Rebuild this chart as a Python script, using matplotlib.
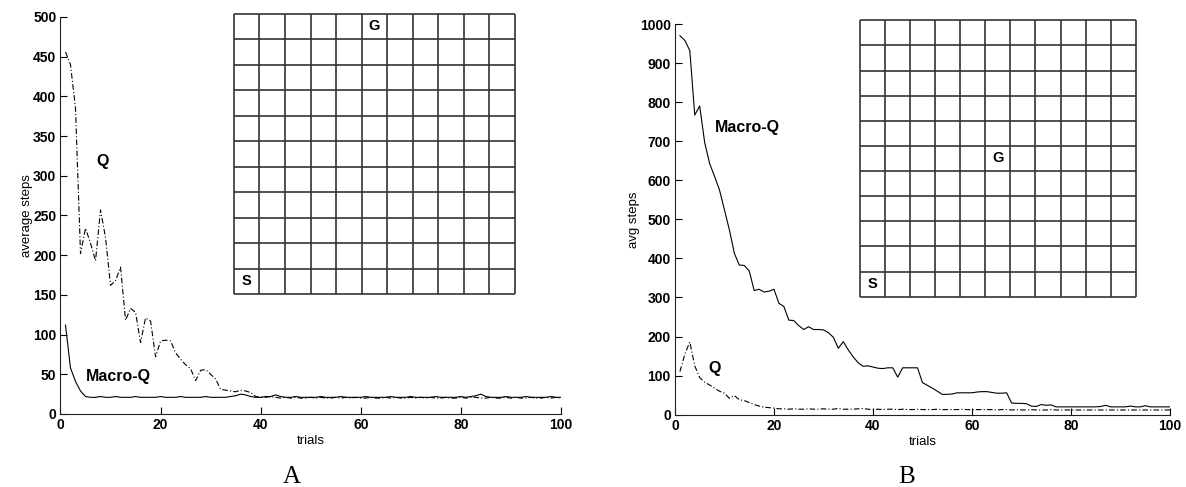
import matplotlib
matplotlib.use('Agg')
import matplotlib.pyplot as plt
import numpy as np

plt.rcParams['font.family'] = ['Liberation Sans', 'DejaVu Sans']

trials = np.arange(1, 101)

# panel A: 11x11 grid, goal near top
q_a = [456, 440, 385, 202, 234, 215, 193, 257, 222, 162,
       168, 185, 118, 133, 128, 90, 121, 117, 72, 92,
       93, 92, 77, 69, 62, 57, 42, 55, 56, 50,
       44, 31, 30, 29, 28, 30, 29, 27, 22, 21,
       21, 22, 21, 20, 21, 20, 21, 20, 20, 21,
       20, 21, 20, 20, 21, 20, 21, 20, 21, 20,
       20, 21, 20, 20, 21, 20, 21, 20, 20, 21,
       20, 21, 20, 21, 20, 20, 21, 20, 20, 21,
       20, 21, 21, 20, 20, 21, 20, 20, 21, 20,
       21, 20, 20, 21, 20, 20, 21, 20, 21, 20]
macro_a = [112, 58, 41, 29, 22, 21, 21, 22, 21, 21,
           22, 21, 21, 21, 22, 21, 21, 21, 21, 22,
           21, 21, 21, 22, 21, 21, 21, 21, 22, 21,
           21, 21, 21, 22, 23, 25, 24, 22, 21, 21,
           22, 22, 24, 22, 21, 21, 22, 21, 21, 21,
           21, 22, 21, 21, 21, 22, 21, 21, 21, 21,
           22, 21, 21, 21, 21, 22, 21, 21, 21, 22,
           21, 21, 21, 21, 22, 21, 21, 21, 21, 22,
           21, 22, 23, 25, 22, 21, 21, 21, 22, 21,
           21, 21, 22, 21, 21, 21, 21, 22, 21, 21]

# panel B: 11x11 grid, goal in the middle
macro_b = [970, 958, 932, 767, 790, 697, 643, 610, 575, 524,
           473, 413, 383, 382, 368, 318, 321, 314, 316, 321,
           285, 277, 242, 241, 228, 218, 225, 218, 218, 217,
           210, 198, 170, 187, 166, 148, 133, 124, 125, 122,
           119, 118, 120, 120, 96, 120, 120, 120, 120, 82,
           75, 68, 60, 52, 52, 53, 56, 56, 56, 56,
           58, 59, 59, 57, 55, 55, 56, 30, 29, 29,
           28, 22, 21, 26, 24, 25, 20, 20, 20, 20,
           20, 20, 20, 20, 20, 21, 24, 20, 20, 20,
           20, 22, 20, 20, 23, 20, 20, 20, 20, 20]
q_b = [110, 155, 186, 125, 95, 83, 76, 68, 60, 55,
       42, 49, 38, 36, 31, 26, 22, 19, 18, 17,
       15, 15, 14, 15, 14, 14, 15, 14, 14, 15,
       14, 14, 16, 14, 14, 14, 15, 16, 14, 13,
       14, 13, 14, 14, 13, 14, 13, 13, 14, 13,
       13, 13, 14, 13, 13, 13, 13, 14, 13, 13,
       13, 13, 13, 13, 12, 13, 13, 12, 13, 12,
       12, 13, 12, 12, 12, 13, 12, 12, 12, 12,
       12, 12, 12, 12, 12, 12, 12, 12, 12, 12,
       12, 12, 12, 12, 12, 12, 12, 12, 12, 12]

DASHDOT = (0, (5, 2, 1, 2))


def style_axes(ax, ymax, ystep, ylabel):
    ax.set_xlim(0, 100); ax.set_ylim(0, ymax)
    ax.set_xticks(range(0, 101, 20))
    ax.set_yticks(range(0, ymax + 1, ystep))
    ax.tick_params(direction='in', length=5, width=0.8, pad=3)
    for lab in ax.get_xticklabels() + ax.get_yticklabels():
        lab.set_fontsize(10); lab.set_fontweight('bold')
    ax.spines['top'].set_visible(False); ax.spines['right'].set_visible(False)
    for sp in ('left', 'bottom'):
        ax.spines[sp].set_linewidth(0.8); ax.spines[sp].set_color('#222222')
    ax.set_xlabel('trials', fontsize=9.5, labelpad=2)
    ax.set_ylabel(ylabel, fontsize=9.5, labelpad=0)


def draw_grid(ax, goal):
    for k in range(12):
        ax.plot([k, k], [0, 11], color='#333333', lw=1.2, solid_capstyle='butt')
        ax.plot([0, 11], [k, k], color='#333333', lw=1.2, solid_capstyle='butt')
    ax.text(0.5, 0.5, 'S', ha='center', va='center', fontsize=10.5, fontweight='bold')
    ax.text(goal[0], goal[1], 'G', ha='center', va='center', fontsize=10.5, fontweight='bold')
    ax.set_xlim(-0.05, 11.05); ax.set_ylim(-0.05, 11.05)
    ax.axis('off')


fig = plt.figure(figsize=(11.86, 4.87), dpi=100)
fig.patch.set_facecolor('white')

ax_a = fig.add_axes([0.0510, 0.1499, 0.4220, 0.8152])
ax_a.plot(trials, q_a, color='black', lw=0.8, linestyle=DASHDOT)
ax_a.plot(trials, macro_a, color='black', lw=0.8)
style_axes(ax_a, 500, 50, 'average steps')
ax_a.text(8.5, 318, 'Q', ha='center', va='center', fontsize=11.5, fontweight='bold')
ax_a.text(5.0, 47, 'Macro-Q', ha='left', va='center', fontsize=11.5, fontweight='bold')

ax_b = fig.add_axes([0.5691, 0.1485, 0.4174, 0.8022])
ax_b.plot(trials, macro_b, color='black', lw=0.8)
ax_b.plot(trials, q_b, color='black', lw=0.8, linestyle=DASHDOT)
style_axes(ax_b, 1000, 100, 'avg steps')
ax_b.text(8.0, 736, 'Macro-Q', ha='left', va='center', fontsize=11.5, fontweight='bold')
ax_b.text(8.0, 118, 'Q', ha='center', va='center', fontsize=11.5, fontweight='bold')

ins_a = fig.add_axes([0.1962, 0.3936, 0.2389, 0.5811])
draw_grid(ins_a, (5.5, 10.5))
ins_b = fig.add_axes([0.7237, 0.3881, 0.2352, 0.5729])
draw_grid(ins_b, (5.5, 5.5))

fig.text(292 / 1186, 1 - 477 / 487, 'A', ha='center', va='center',
         fontsize=18, family='Liberation Serif')
fig.text(907 / 1186, 1 - 477 / 487, 'B', ha='center', va='center',
         fontsize=18, family='Liberation Serif')

plt.savefig('out.png', dpi=100, facecolor='white')
